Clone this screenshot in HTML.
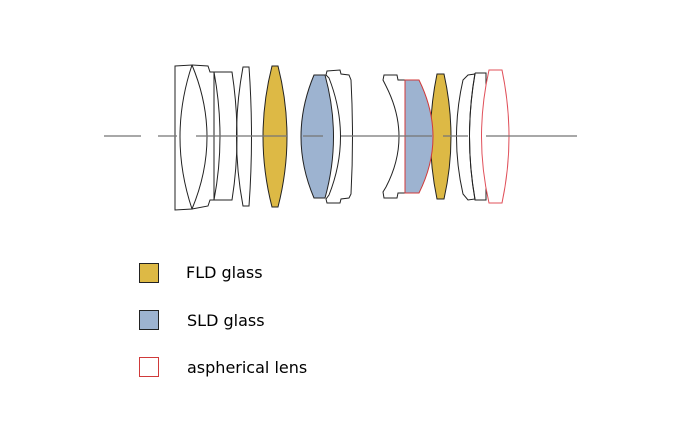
<!DOCTYPE html>
<html><head><style>
body{margin:0;background:#fff;width:680px;height:424px;overflow:hidden}
svg{display:block}
text{font-family:"DejaVu Sans","Liberation Sans",sans-serif;font-size:16px;fill:#000}
</style></head><body>
<svg width="680" height="424" viewBox="0 0 680 424">
<g fill="none" stroke="#222" stroke-width="1">
<path d="M175,66 L192,65 Q168,137 192,209 L175,210 Z"/>
<path d="M192,65 Q222,137 192,209"/>
<path d="M192,65 L208,66 L210,72 L214,72 L214,200 L210,200 L208,206 L192,209"/>
<path d="M214,72 L232,72 Q242,137 232,200 L214,200 Q226,137 214,72"/>
<path d="M243,67 L249,67 Q254,137 249,206 L243,206 Q230,137 243,67 Z"/>
<path d="M272,66 L278,66 Q296,137 278,207 L272,207 Q254,137 272,66 Z" fill="#ddb945"/>
<path d="M314,75 L325,75 Q342,137 325,198 L314,198 Q288,137 314,75 Z" fill="#9db3d0"/>
<path d="M327,71 L340,70 L341,74 L349,75 L351,80 Q354,137 351,194 L349,198 L341,199 L340,203 L327,203 L326,199 L329,195 Q352,137 329,78 L326,75 Z"/>
<path d="M384,75 L397,75 L398,80 L405,80 L405,193 L398,193 L397,198 L384,198 L383,192 L386,187 Q412,137 386,86 L383,80 Z"/>
<path d="M437,74 L444,74 Q458,137 444,199 L437,199 Q424,137 437,74 Z" fill="#ddb945"/>
<path d="M468,75 L475,74 Q464,137 475,199 L468,200 L463,194 Q450,137 463,80 Z"/>
<path d="M475,73 L486,73 L486,200 L475,200 Q464,137 475,73"/>
</g>
<path d="M405,80 L419,80 Q447,137 419,193 L405,193 Z" fill="#9db3d0" stroke="#d03a3a" stroke-width="1"/>
<path d="M489,70 L502,70 Q516,137 502,203 L489,203 Q474,137 489,70 Z" fill="#fff" stroke="#e0505a" stroke-width="1"/>
<g stroke="#777" stroke-width="1.5" opacity="0.85">
<line x1="104" y1="136" x2="141" y2="136"/><line x1="158" y1="136" x2="177" y2="136"/>
<line x1="196" y1="136" x2="287" y2="136"/><line x1="303" y1="136" x2="323" y2="136"/>
<line x1="341" y1="136" x2="432" y2="136"/><line x1="443" y1="136" x2="468" y2="136"/>
<line x1="486" y1="136" x2="577" y2="136"/>
</g>
<rect x="139.5" y="263.5" width="19" height="19" fill="#ddb945" stroke="#222"/>
<rect x="139.5" y="310.5" width="19" height="19" fill="#9db3d0" stroke="#222"/>
<rect x="139.5" y="357.5" width="19" height="19" fill="#fff" stroke="#d03a3a"/>
<text x="186" y="278">FLD glass</text>
<text x="187" y="326">SLD glass</text>
<text x="187" y="373">aspherical lens</text>
</svg>
</body></html>
